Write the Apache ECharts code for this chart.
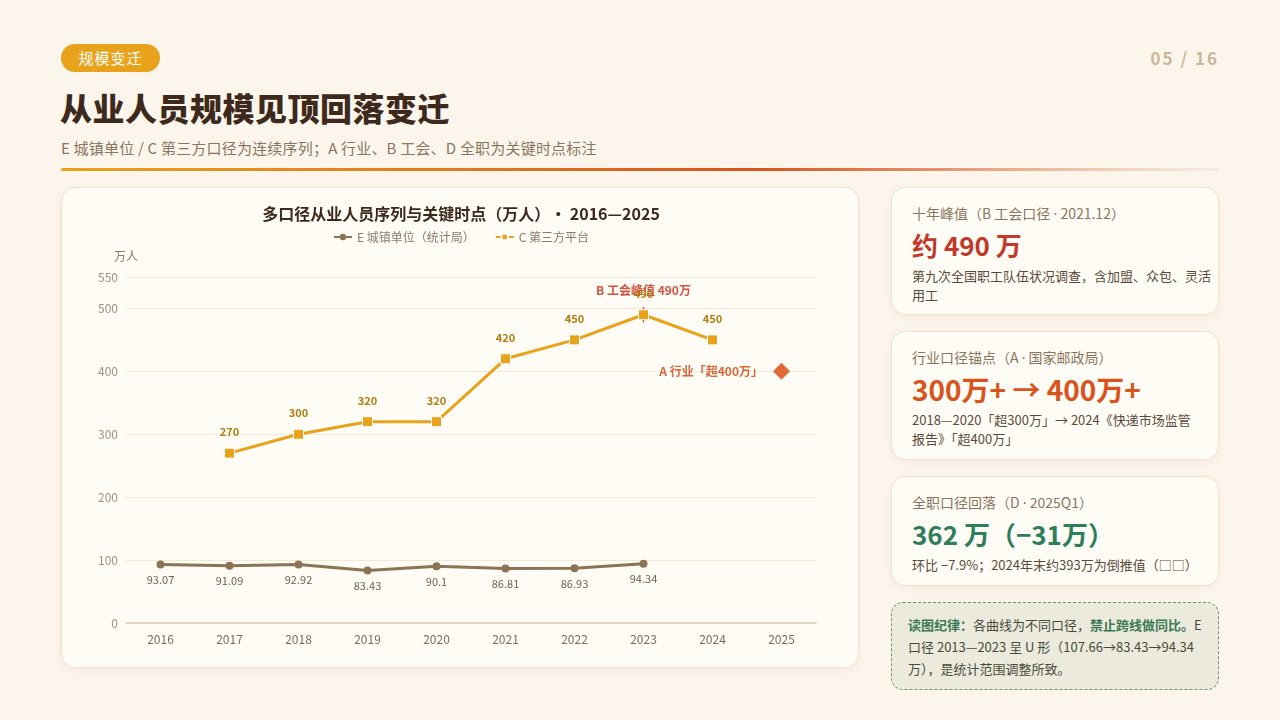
<!DOCTYPE html>
<html><head><meta charset="utf-8">
<script src="https://cdn.jsdelivr.net/npm/echarts@6/dist/echarts.min.js"></script>
<style>
*{margin:0;padding:0;box-sizing:border-box}
body{width:1280px;height:720px;background:#fcf5ec;font-family:"Noto Sans CJK SC","Noto Sans",sans-serif;position:relative;overflow:hidden;color:#3d2a1c}
.tag{position:absolute;left:61px;top:44px;width:99px;height:28px;border-radius:14px;background:#e8a21c;color:#fff;font-size:15px;line-height:28px;text-align:center;letter-spacing:1px}
.page{position:absolute;right:61px;top:45px;font-size:17px;font-weight:bold;color:#cbb69a;letter-spacing:2px}
h1{position:absolute;left:60px;top:84px;font-size:32px;font-weight:900;color:#3d2a1c;letter-spacing:0.5px}
.sub{position:absolute;left:61px;top:137px;font-size:15px;color:#8a7560;letter-spacing:0.2px}
.rule{position:absolute;left:61px;top:168px;width:1158px;height:3px;background:linear-gradient(90deg,#e8a21c 0%,#df7a1e 35%,#d6541d 60%,rgba(214,84,29,0.3) 88%,rgba(214,84,29,0.05) 100%);border-radius:2px}
.panel{position:absolute;left:61px;top:187px;width:798px;height:481px;background:#fffcf5;border:1px solid #efe2c6;border-radius:14px;box-shadow:0 2px 8px rgba(150,120,80,0.08)}
#chart{position:absolute;left:0;top:0;width:798px;height:481px}
.card{position:absolute;left:891px;width:328px;background:#fffcf5;border:1px solid #efe2c6;border-radius:14px;padding:14px 20px;box-shadow:0 2px 8px rgba(150,120,80,0.08)}
.card .t{font-size:14px;color:#8a7560;line-height:22px}
.card .big{font-weight:bold;line-height:36px;margin-top:2px}
.card .d{font-size:13px;color:#5a4a3a;line-height:19px;margin-top:3px;white-space:nowrap}
.dot{font-family:"Noto Sans",sans-serif}
.note{position:absolute;left:891px;top:602px;width:328px;height:88px;background:#ebeadd;border:1.5px dashed #6a9a70;border-radius:12px;padding:11px 16px;font-size:13px;line-height:22px;color:#4a4a3a}
.note b{color:#3d7a55}
</style></head>
<body>
<div class="tag">规模变迁</div>
<div class="page">05 / 16</div>
<h1>从业人员规模见顶回落变迁</h1>
<div class="sub">E 城镇单位 / C 第三方口径为连续序列；A 行业、B 工会、D 全职为关键时点标注</div>
<div class="rule"></div>
<div class="panel"><div id="chart"></div></div>

<div class="card" style="top:187px;height:128px">
  <div class="t">十年峰值（B 工会口径 <span class="dot">·</span> 2021.12）</div>
  <div class="big" style="font-size:26px;color:#c0392b">约 490 万</div>
  <div class="d">第九次全国职工队伍状况调查，含加盟、众包、灵活<br>用工</div>
</div>
<div class="card" style="top:331px;height:129px">
  <div class="t">行业口径锚点（A <span class="dot">·</span> 国家邮政局）</div>
  <div class="big" style="font-size:28px;color:#d9531e">300万+ → 400万+</div>
  <div class="d">2018—2020「超300万」→ 2024《快递市场监管<br>报告》「超400万」</div>
</div>
<div class="card" style="top:476px;height:110px">
  <div class="t">全职口径回落（D <span class="dot">·</span> 2025Q1）</div>
  <div class="big" style="font-size:26px;color:#2e7d5b">362 万（−31万）</div>
  <div class="d">环比 −7.9%；2024年末约393万为倒推值（□□）</div>
</div>
<div class="note"><b>读图纪律：</b>各曲线为不同口径，<b>禁止跨线做同比。</b>E 口径 2013—2023 呈 U 形（107.66→83.43→94.34 万），是统计范围调整所致。</div>

<script>
var years = ['2016','2017','2018','2019','2020','2021','2022','2023','2024','2025'];
var seriesE = [93.07, 91.09, 92.92, 83.43, 90.1, 86.81, 86.93, 94.34, null, null];
var seriesC = [null, 270, 300, 320, 320, 420, 450, 490, 450, null];
var yTicks = [0, 100, 200, 300, 400, 500, 550];
var pointB = {year: '2023', value: 490, label: 'B 工会峰值 490万'};
var pointA = {year: '2025', value: 400, label: 'A 行业「超400万」'};

var chart = echarts.init(document.getElementById('chart'));
var font = '"Noto Sans CJK SC","Noto Sans",sans-serif';
chart.setOption({
  textStyle: {fontFamily: font},
  title: {text: '多口径从业人员序列与关键时点（万人）• 2016—2025', left: 'center', top: 13,
    textStyle: {fontSize: 16, fontWeight: 'bold', color: '#3d2a1c'}},
  legend: {top: 38, left: 'center', itemWidth: 18, itemHeight: 8, itemGap: 20,
    textStyle: {color: '#8a7a6a', fontSize: 12},
    data: ['E 城镇单位（统计局）', 'C 第三方平台']},
  grid: {left: 64, right: 44, top: 89, bottom: 46},
  xAxis: {type: 'category', data: years, boundaryGap: true,
    axisLine: {lineStyle: {color: '#dccbb0', width: 1.5}}, axisTick: {show: false},
    axisLabel: {color: '#7a6a5a', fontSize: 12, margin: 10}},
  yAxis: {type: 'value', min: 0, max: 550, interval: 100, name: '万人', nameGap: 15,
    nameTextStyle: {color: '#8a7a6a', fontSize: 12, align: 'center'},
    axisLabel: {color: '#a09080', fontSize: 12, showMaxLabel: true},
    axisLine: {show: false}, axisTick: {show: false},
    splitLine: {lineStyle: {color: '#f3e8d6'}}},
  series: [
    {name: 'E 城镇单位（统计局）', type: 'line', data: seriesE, symbol: 'circle', symbolSize: 8,
      color: '#8b7355', lineStyle: {width: 3, color: '#8b7355'},
      label: {show: true, position: 'bottom', distance: 6, color: '#6e6050', fontSize: 11}},
    {name: 'C 第三方平台', type: 'line', data: seriesC, symbol: 'rect', symbolSize: 10,
      color: '#e8a21c', lineStyle: {width: 3, color: '#e8a21c'},
      itemStyle: {borderColor: '#fff', borderWidth: 1},
      label: {show: true, position: 'top', distance: 10, color: '#b07d10', fontSize: 11, fontWeight: 'bold'},
      z: 3},
    {name: 'markers', type: 'line', data: [], z: 1,
      markPoint: {
        z: 1,
        data: [
          {coord: [pointB.year, pointB.value], symbol: 'diamond', symbolSize: [6, 17],
            itemStyle: {color: '#d0533f'},
            label: {show: true, formatter: pointB.label, position: 'top', distance: 10,
              color: '#d0533f', fontSize: 12, fontWeight: 'bold'}},
          {coord: [pointA.year, pointA.value], symbol: 'diamond', symbolSize: 17,
            itemStyle: {color: '#e06a3a'},
            label: {show: true, formatter: pointA.label, position: 'left', distance: 10,
              color: '#d9663a', fontSize: 12, fontWeight: 'bold'}}
        ]
      }}
  ]
});
</script>
</body></html>
